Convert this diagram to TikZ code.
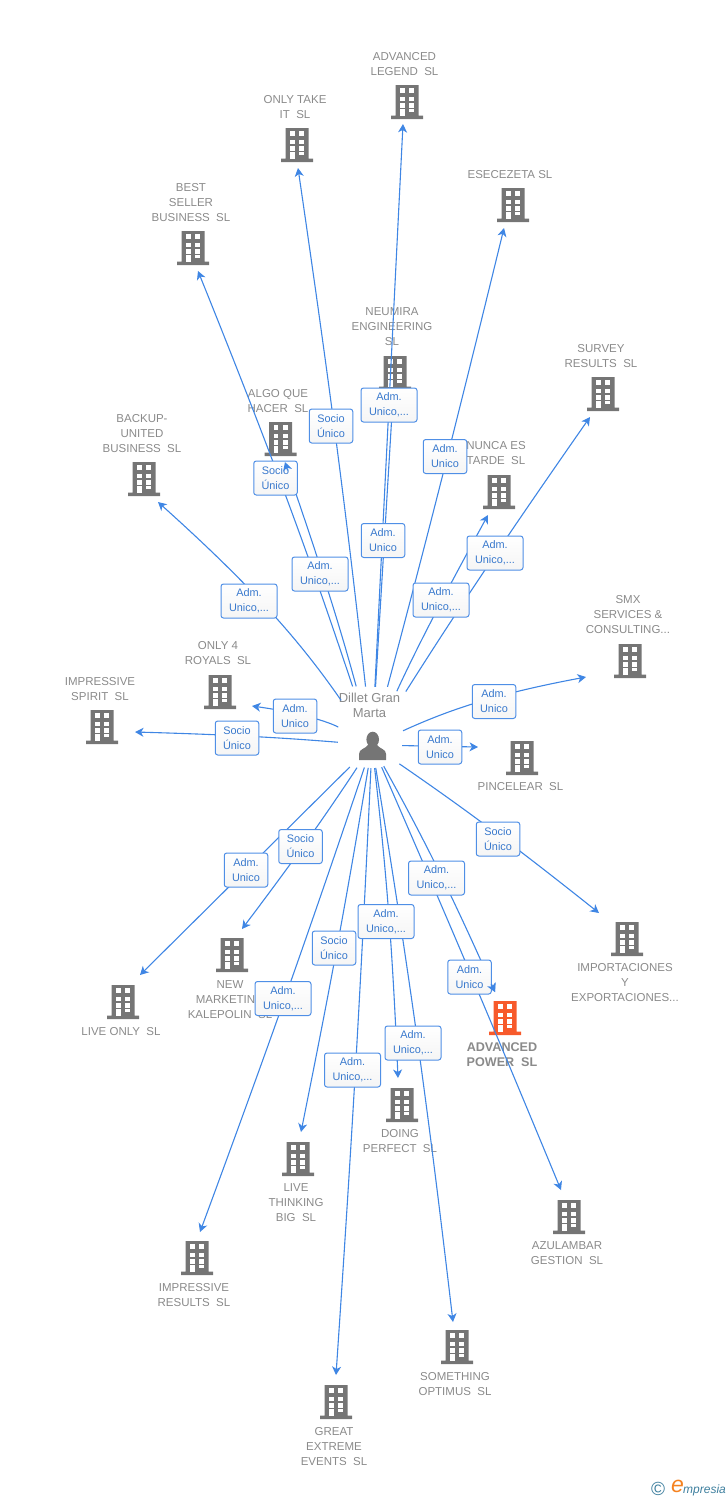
\documentclass[tikz,border=0pt]{standalone}
\usepackage{fontspec}
\setmainfont{Liberation Sans}
\usetikzlibrary{arrows.meta}
\definecolor{linkblue}{HTML}{3F86E4}
\definecolor{tagedge}{HTML}{4F8FE6}
\definecolor{bldggray}{HTML}{757575}
\definecolor{bldgorange}{HTML}{F75A2B}
\definecolor{namegray}{HTML}{8A8A8A}
\definecolor{logoteal}{HTML}{3E7F9E}
\definecolor{logoorange}{HTML}{F58220}
\tikzset{
  site/.style={inner sep=0pt,minimum size=0pt},
  sitename/.style={text=namegray,align=center,yshift=-1pt,font=\fontsize{11.5}{15}\selectfont},
  link/.style={linkblue,line width=1.1pt,-{Stealth[length=8.5pt,width=9pt,inset=2.5pt]}},
  tag/.style={draw=tagedge,line width=1pt,rounded corners=2.5pt,top color=white,bottom color=black!4,
    text=linkblue!90!black,align=center,font=\fontsize{10.9}{15}\selectfont,
    inner sep=0pt,minimum height=34pt},
  tagshort/.style={tag,minimum width=43.5pt},
  taglong/.style={tag,minimum width=56pt},
  pics/bldg/.style={code={
    \fill[#1] (-11.5,-16) rectangle (11.5,14.5) (-16,14.5) rectangle (16,18);
    \foreach \wy in {-12.7,-4.5,2.3} {
      \fill[white] (-7,\wy) rectangle ++(4.6,4.3);
      \fill[white] (2.4,\wy) rectangle ++(4.6,4.3);
    }
    \fill[white] (-7,8) rectangle (-2.4,14.5);
    \fill[white] (2.4,8) rectangle (7,11.4);
  }}
}
\begin{document}
\begin{tikzpicture}[x=1pt,y=-1pt]
  \useasboundingbox (0,0) rectangle (728,1500);

  % buildings
  \foreach \n/\x/\y in {legend/407/101,onlytake/297/144,esecezeta/513/204,bestseller/193/247,
      neumira/395/372,algo/280.5/438,survey/603/393,nunca/499/491,backup/144/478,smx/630/660,
      onlyfour/220/691,impspirit/102/726,pincelear/522/757,importa/627/938,newmark/232/954,
      liveonly/123/1001,doing/402/1104,livethink/298/1158,azulambar/569/1216,
      impresults/197/1257,something/457/1346,great/336/1401} {
    \node[site] (\n) at (\x,\y) {};
    \pic at (\n) {bldg=bldggray};
  }
  \node[site] (power) at (505,1017) {};
  \pic at (power) {bldg=bldgorange};

  % names
  \foreach \n/\x/\y/\t in {legend/404.5/63.5/{ADVANCED\\LEGEND\ \ SL},onlytake/295/106.5/{ONLY TAKE\\IT\ \ SL},
      esecezeta/510/174/{ESECEZETA SL},bestseller/191/202/{BEST\\SELLER\\BUSINESS\ \ SL},
      neumira/392/326/{NEUMIRA\\ENGINEERING\\SL},algo/278/400.5/{ALGO QUE\\HACER\ \ SL},
      survey/601/355.5/{SURVEY\\RESULTS\ \ SL},nunca/496/452.5/{NUNCA ES\\TARDE\ \ SL},
      backup/142/433/{BACKUP-\\UNITED\\BUSINESS\ \ SL},smx/628/614/{SMX\\SERVICES \&\\CONSULTING...},
      onlyfour/218/652.5/{ONLY 4\\ROYALS\ \ SL},impspirit/100/688.5/{IMPRESSIVE\\SPIRIT\ \ SL},
      pincelear/520.5/786/{PINCELEAR\ \ SL},importa/625/982/{IMPORTACIONES\\Y\\EXPORTACIONES...},
      newmark/230/999/{NEW\\MARKETING\\KALEPOLIN\ \ SL},liveonly/121/1031/{LIVE ONLY\ \ SL},
      doing/400/1140.5/{DOING\\PERFECT\ \ SL},livethink/296/1202/{LIVE\\THINKING\\BIG\ \ SL},
      azulambar/567/1252.5/{AZULAMBAR\\GESTION\ \ SL},impresults/194/1294.5/{IMPRESSIVE\\RESULTS\ \ SL},
      something/455/1383.5/{SOMETHING\\OPTIMUS\ \ SL},great/334/1446/{GREAT\\EXTREME\\EVENTS\ \ SL}} {
    \node[sitename] (\n-name) at (\x,\y) {\t};
  }
  \node[sitename,font=\bfseries\fontsize{12.6}{15}\selectfont] (power-name) at (502,1053.5) {ADVANCED\\POWER\ \ SL};

  % person
  \node[site] (dillet) at (372,745) {};
  \node[sitename,font=\fontsize{13}{15}\selectfont] (dillet-name) at (369.5,704.5) {Dillet Gran\\Marta};
  \fill[bldggray] (372.7,739.5) ellipse (6.3 and 7.8);
  \fill[bldggray] (359,760) -- (359,754) .. controls (359,749) and (365,749) .. (368,745) -- (377,745)
    .. controls (380,749) and (386,749) .. (386,754) -- (386,760) -- cycle;

  % links: target / tip x / tip y / start gap / bend
  \foreach \n/\tx/\ty/\s/\b in {legend/403/124/58/0,neumira/393/397/58/0,onlytake/298/168/58.5/-1,
      bestseller/198/271/61.5/-1.8,algo/285/462/60.5/-2,esecezeta/504/228/60/-.6,nunca/488/515/59/2,
      survey/590/417/63/1.3,backup/158/502/54/-6.7,smx/586/677/34/7,onlyfour/252/706/38/-10,
      impspirit/135/732/34/-1.5,pincelear/478/747/30/0,importa/599/913/33/2,liveonly/140/975/31/0,
      newmark/242/929/27/1.8,impresults/200/1232/23.5/.8,livethink/301/1132/23/1,great/336/1375/23/.6,
      doing/398/1078/23/2,something/453/1322/23/1.3,power/495/992/24/2.5,azulambar/561/1190/24/.5} {
    \coordinate (\n-tip) at (\tx,\ty);
    \draw[link,shorten <=\s pt] (dillet) to[bend left=\b] (\n-tip);
  }

  % link labels
  \foreach \n/\st/\x/\y/\t in {onlytake/tagshort/331/426/{Socio\\Único},legend/taglong/389/405/{Adm.\\Unico,...},
      esecezeta/tagshort/445/456.5/{Adm.\\Unico},bestseller/tagshort/275.5/478/{Socio\\Único},
      neumira/tagshort/383/540.5/{Adm.\\Unico},survey/taglong/495/553/{Adm.\\Unico,...},
      algo/taglong/320/574/{Adm.\\Unico,...},nunca/taglong/441/600/{Adm.\\Unico,...},
      backup/taglong/249/601/{Adm.\\Unico,...},onlyfour/tagshort/295/716/{Adm.\\Unico},
      impspirit/tagshort/237/738/{Socio\\Único},smx/tagshort/494/701.5/{Adm.\\Unico},
      pincelear/tagshort/440/747/{Adm.\\Unico},importa/tagshort/498/839/{Socio\\Único},
      newmark/tagshort/300.5/846.5/{Socio\\Único},liveonly/tagshort/246/870/{Adm.\\Unico},
      azulambar/taglong/436.5/878/{Adm.\\Unico,...},doing/taglong/386/921.5/{Adm.\\Unico,...},
      livethink/tagshort/334/948/{Socio\\Único},power/tagshort/469.5/977/{Adm.\\Unico},
      impresults/taglong/283/998.5/{Adm.\\Unico,...},something/taglong/413/1043/{Adm.\\Unico,...},
      great/taglong/352.5/1070/{Adm.\\Unico,...}} {
    \node[\st] (\n-tag) at (\x,\y) {\t};
  }

  % these two heads sit over the labels
  \draw[link,shorten <=287pt] (dillet) -- (algo-tip);
  \draw[link,shorten <=267pt] (dillet) -- (power-tip);

  % logo
  \node[site,text=logoteal,font=\fontsize{19}{19}\selectfont] (logo-c) at (658,1489) {©};
  \node[site,text=logoorange,font=\itshape\fontsize{23}{23}\selectfont] (logo-e) at (677.5,1486) {e};
  \node[site,text=logoteal,font=\itshape\fontsize{12}{13}\selectfont,anchor=west] (logo-m) at (683,1490) {mpresia};
\end{tikzpicture}
\end{document}
